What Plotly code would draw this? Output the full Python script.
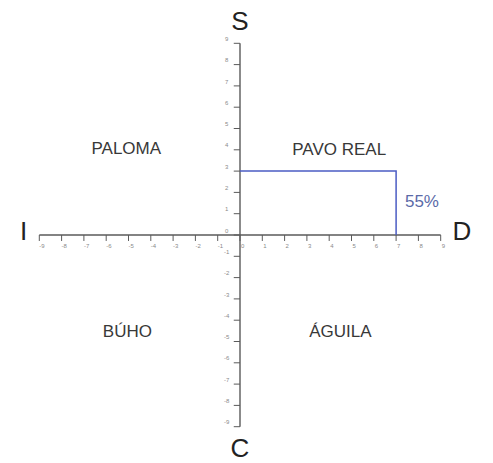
import plotly.graph_objects as go

# ---- data ----
tick_values = [-9, -8, -7, -6, -5, -4, -3, -2, -1, 0, 1, 2, 3, 4, 5, 6, 7, 8, 9]
tick_labels = [str(v) for v in tick_values]
axis_letters = ["S", "C", "I", "D"]           # top, bottom, left, right
quadrant_names = ["PALOMA", "PAVO REAL", "BÚHO", "ÁGUILA"]
quadrant_x = [-5.1, 4.45, -5.05, 4.5]
quadrant_y = [4.0, 3.95, -4.6, -4.6]
result_x = 7          # D score
result_y = 3          # S score
result_label = "55%"

# ---- geometry (px per unit) ----
W, H = 493, 463
cx, cy = 240, 235
sx, sy = 22.3, 21.3
x_range = [-cx / sx, (W - cx) / sx]
y_range = [-(H - cy) / sy, cy / sy]

axis_col = "#5a5a5a"
fig = go.Figure()

# axes
lo, hi = min(tick_values), max(tick_values)
fig.add_trace(go.Scatter(x=[lo, hi, None, 0, 0], y=[0, 0, None, lo, hi],
                         mode="lines", line=dict(color=axis_col, width=1.4),
                         hoverinfo="skip", showlegend=False))

# tick marks
tx, ty = [], []
for v in tick_values:
    tx += [v, v, None]
    ty += [0, -0.28, None]
    tx += [0, -0.28, None]
    ty += [v, v, None]
fig.add_trace(go.Scatter(x=tx, y=ty, mode="lines", line=dict(color=axis_col, width=1),
                         hoverinfo="skip", showlegend=False))

# tick labels
fig.add_trace(go.Scatter(x=[v + 0.12 for v in tick_values], y=[-0.55] * len(tick_values),
                         mode="text", text=tick_labels,
                         textfont=dict(size=6, color="#8a8a8a", family="Liberation Sans"),
                         hoverinfo="skip", showlegend=False))
fig.add_trace(go.Scatter(x=[-0.6] * len(tick_values), y=[v + 0.18 for v in tick_values],
                         mode="text", text=tick_labels,
                         textfont=dict(size=6, color="#8a8a8a", family="Liberation Sans"),
                         hoverinfo="skip", showlegend=False))

# result lines
fig.add_trace(go.Scatter(x=[0, result_x, result_x], y=[result_y, result_y, 0],
                         mode="lines", line=dict(color="#4b5cc4", width=1.5),
                         hoverinfo="skip", showlegend=False))

# quadrant names
fig.add_trace(go.Scatter(x=quadrant_x, y=quadrant_y, mode="text", text=quadrant_names,
                         textfont=dict(size=17, color="#383838", family="Liberation Sans"),
                         hoverinfo="skip", showlegend=False))

# result label
fig.add_trace(go.Scatter(x=[result_x + 1.16], y=[1.5], mode="text", text=[result_label],
                         textfont=dict(size=17, color="#5b6aa8", family="Liberation Sans"),
                         hoverinfo="skip", showlegend=False))

# axis letters
fig.add_trace(go.Scatter(x=[0, 0, -9.7, 9.95], y=[9.95, -10.1, 0.09, 0.09], mode="text",
                         text=axis_letters,
                         textfont=dict(size=26, color="#222222", family="Liberation Sans"),
                         hoverinfo="skip", showlegend=False))

fig.update_layout(
    width=W, height=H,
    margin=dict(l=0, r=0, t=0, b=0),
    paper_bgcolor="white", plot_bgcolor="white",
    xaxis=dict(range=x_range, visible=False, fixedrange=True),
    yaxis=dict(range=y_range, visible=False, fixedrange=True),
)

fig.write_html("out.html",
               config={"displayModeBar": False, "staticPlot": True},
               post_script="document.body.style.margin='0px';document.body.style.overflow='hidden';")
